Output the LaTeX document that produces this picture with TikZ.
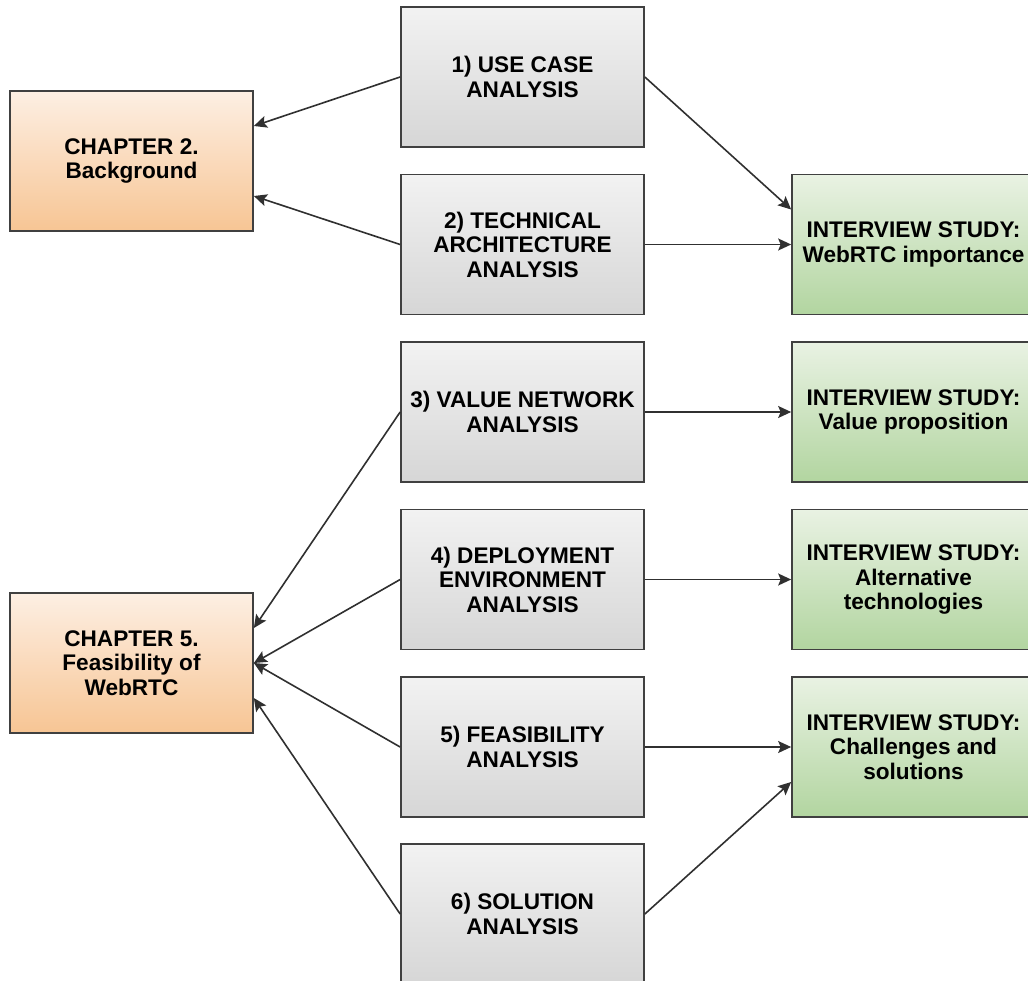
\documentclass[tikz,border=0pt]{standalone}
\usepackage{fontspec}
\setmainfont{Liberation Sans}
\usetikzlibrary{arrows.meta}

\definecolor{edgegray}{HTML}{404040}
\definecolor{linegray}{HTML}{303030}
\definecolor{graytop}{HTML}{F2F2F2}
\definecolor{graybot}{HTML}{D6D6D6}
\definecolor{orgtop}{HTML}{FDEFE3}
\definecolor{orgbot}{HTML}{F7C594}
\definecolor{grntop}{HTML}{E9F2E3}
\definecolor{grnbot}{HTML}{B2D5A0}

\tikzset{
  box/.style={draw=edgegray, line width=1.7pt, minimum width=243pt, minimum height=140pt,
    inner sep=2pt, align=center, font=\fontsize{22.6}{24.5}\selectfont\bfseries},
  chapter/.style={box, top color=orgtop, bottom color=orgbot},
  stage/.style={box, top color=graytop, bottom color=graybot},
  study/.style={box, top color=grntop, bottom color=grnbot},
  link/.style={draw=linegray, line width=1.6pt,
    -{Stealth[length=13pt, width=12pt, inset=2.5pt]}}
}

\begin{document}
\begin{tikzpicture}[x=1pt, y=-1pt]
  \useasboundingbox (0,0) rectangle (1028,980);
  \clip (0,0) rectangle (1028,980);

  % chapters
  \node[chapter] (ch2) at (131.5,161) {CHAPTER 2.\\Background};
  \node[chapter] (ch5) at (131.5,663) {CHAPTER 5.\\Feasibility of\\WebRTC};

  % analysis stages
  \node[stage] (b1) at (522.5,77)    {1) USE CASE\\ANALYSIS};
  \node[stage] (b2) at (522.5,244.5) {2) TECHNICAL\\ARCHITECTURE\\ANALYSIS};
  \node[stage] (b3) at (522.5,412)   {3) VALUE NETWORK\\ANALYSIS};
  \node[stage] (b4) at (522.5,579.5) {4) DEPLOYMENT\\ENVIRONMENT\\ANALYSIS};
  \node[stage] (b5) at (522.5,747)   {5) FEASIBILITY\\ANALYSIS};
  \node[stage] (b6) at (522.5,914)   {6) SOLUTION\\ANALYSIS};

  % interview study topics
  \node[study] (g1) at (913.5,244.5) {INTERVIEW STUDY:\\WebRTC importance};
  \node[study] (g2) at (913.5,412)   {INTERVIEW STUDY:\\Value proposition};
  \node[study] (g3) at (913.5,579.5) {INTERVIEW STUDY:\\Alternative\\technologies};
  \node[study] (g4) at (913.5,747)   {INTERVIEW STUDY:\\Challenges and\\solutions};

  % stages feeding chapter 2
  \draw[link] (b1.west) -- ([yshift=35pt]ch2.east);
  \draw[link] (b2.west) -- ([yshift=-35pt]ch2.east);

  % stages feeding chapter 5
  \draw[link] (b3.west) -- ([yshift=35pt]ch5.east);
  \draw[link] (b4.west) -- (ch5.east);
  \draw[link] (b5.west) -- (ch5.east);
  \draw[link] (b6.west) -- ([yshift=-35pt]ch5.east);

  % stages feeding the interview study
  \draw[link] (b1.east) -- ([yshift=35pt]g1.west);
  \draw[link] (b2.east) -- (g1.west);
  \draw[link] (b3.east) -- (g2.west);
  \draw[link] (b4.east) -- (g3.west);
  \draw[link] (b5.east) -- (g4.west);
  \draw[link] (b6.east) -- ([yshift=-35pt]g4.west);
\end{tikzpicture}
\end{document}
